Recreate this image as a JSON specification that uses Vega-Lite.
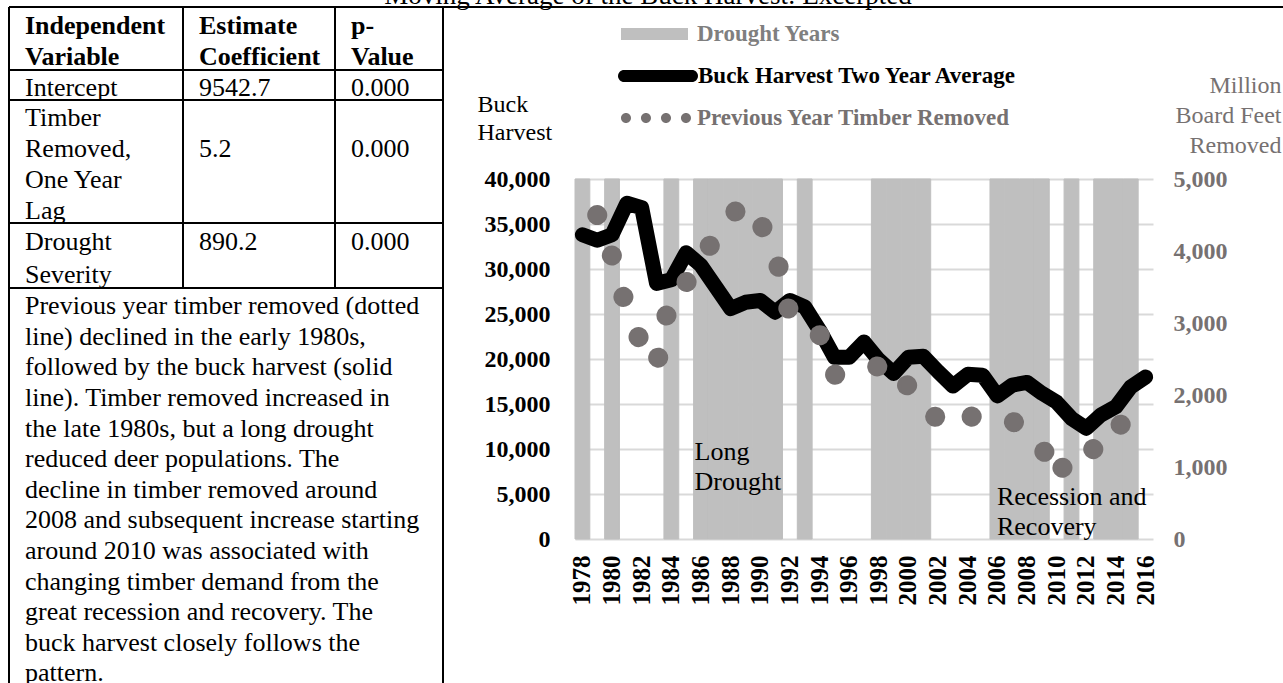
{
  "$schema": "https://vega.github.io/schema/vega-lite/v6.json",
  "width": 1283,
  "height": 683,
  "autosize": {"type": "none"},
  "padding": 0,
  "background": "#ffffff",
  "config": {"view": {"stroke": null}, "font": "Liberation Serif"},
  "datasets": {
    "table_cells": [
      {"col": 0, "line": 0, "part": "header", "text": "Independent"},
      {"col": 0, "line": 1, "part": "header", "text": "Variable"},
      {"col": 1, "line": 0, "part": "header", "text": "Estimate"},
      {"col": 1, "line": 1, "part": "header", "text": "Coefficient"},
      {"col": 2, "line": 0, "part": "header", "text": "p-"},
      {"col": 2, "line": 1, "part": "header", "text": "Value"},
      {"col": 0, "line": 2, "part": "body", "text": "Intercept"},
      {"col": 1, "line": 2, "part": "body", "text": "9542.7"},
      {"col": 2, "line": 2, "part": "body", "text": "0.000"},
      {"col": 0, "line": 3, "part": "body", "text": "Timber"},
      {"col": 0, "line": 4, "part": "body", "text": "Removed,"},
      {"col": 0, "line": 5, "part": "body", "text": "One Year"},
      {"col": 0, "line": 6, "part": "body", "text": "Lag"},
      {"col": 1, "line": 4, "part": "body", "text": "\u00a0\u00a0\u00a0\u00a05.2"},
      {"col": 2, "line": 4, "part": "body", "text": "0.000"},
      {"col": 0, "line": 7, "part": "body", "text": "Drought"},
      {"col": 0, "line": 8, "part": "body", "text": "Severity"},
      {"col": 1, "line": 7, "part": "body", "text": "890.2"},
      {"col": 2, "line": 7, "part": "body", "text": "0.000"},
      {"col": 0, "line": 9, "part": "body", "text": "Previous year timber removed (dotted"},
      {"col": 0, "line": 10, "part": "body", "text": "line) declined in the early 1980s,"},
      {"col": 0, "line": 11, "part": "body", "text": "followed by the buck harvest (solid"},
      {"col": 0, "line": 12, "part": "body", "text": "line). Timber removed increased in"},
      {"col": 0, "line": 13, "part": "body", "text": "the late 1980s, but a long drought"},
      {"col": 0, "line": 14, "part": "body", "text": "reduced deer populations.  The"},
      {"col": 0, "line": 15, "part": "body", "text": "decline in timber removed around"},
      {"col": 0, "line": 16, "part": "body", "text": "2008 and subsequent increase starting"},
      {"col": 0, "line": 17, "part": "body", "text": "around 2010 was associated with"},
      {"col": 0, "line": 18, "part": "body", "text": "changing timber demand from the"},
      {"col": 0, "line": 19, "part": "body", "text": "great recession and recovery.  The"},
      {"col": 0, "line": 20, "part": "body", "text": "buck harvest closely follows the"},
      {"col": 0, "line": 21, "part": "body", "text": "pattern."}
    ],
    "row_edges": [
      {"edge": -0.5, "from": 0, "to": 4},
      {"edge": 1.5, "from": 0, "to": 3},
      {"edge": 2.5, "from": 0, "to": 3},
      {"edge": 6.5, "from": 0, "to": 3},
      {"edge": 8.5, "from": 0, "to": 3}
    ],
    "col_edges": [
      {"edge": 0, "from": -0.5, "to": 22},
      {"edge": 1, "from": -0.5, "to": 8.5},
      {"edge": 2, "from": -0.5, "to": 8.5},
      {"edge": 3, "from": -0.5, "to": 22}
    ],
    "harvest": [
      {"year": 1978, "buck": 33800, "timber": null, "drought": 1},
      {"year": 1979, "buck": 33200, "timber": 4500, "drought": 0},
      {"year": 1980, "buck": 33800, "timber": 3930, "drought": 1},
      {"year": 1981, "buck": 37300, "timber": 3190, "drought": 0},
      {"year": 1982, "buck": 36800, "timber": 2700, "drought": 0},
      {"year": 1983, "buck": 28400, "timber": 2400, "drought": 0},
      {"year": 1984, "buck": 28800, "timber": 3450, "drought": 1},
      {"year": 1985, "buck": 31800, "timber": 3560, "drought": 0},
      {"year": 1986, "buck": 30400, "timber": 3900, "drought": 1},
      {"year": 1987, "buck": 28000, "timber": 4190, "drought": 1},
      {"year": 1988, "buck": 25600, "timber": 4490, "drought": 1},
      {"year": 1989, "buck": 26300, "timber": 4670, "drought": 1},
      {"year": 1990, "buck": 26500, "timber": 4390, "drought": 1},
      {"year": 1991, "buck": 25200, "timber": 3990, "drought": 1},
      {"year": 1992, "buck": 26500, "timber": 3110, "drought": 0},
      {"year": 1993, "buck": 25800, "timber": 2970, "drought": 1},
      {"year": 1994, "buck": 23200, "timber": 2840, "drought": 0},
      {"year": 1995, "buck": 20200, "timber": 2280, "drought": 0},
      {"year": 1996, "buck": 20200, "timber": 2340, "drought": 0},
      {"year": 1997, "buck": 21900, "timber": 2370, "drought": 0},
      {"year": 1998, "buck": 19900, "timber": 2400, "drought": 1},
      {"year": 1999, "buck": 18400, "timber": 2080, "drought": 1},
      {"year": 2000, "buck": 20200, "timber": 2140, "drought": 1},
      {"year": 2001, "buck": 20300, "timber": 1890, "drought": 1},
      {"year": 2002, "buck": 18600, "timber": 1650, "drought": 0},
      {"year": 2003, "buck": 17000, "timber": 1800, "drought": 0},
      {"year": 2004, "buck": 18300, "timber": 1710, "drought": 0},
      {"year": 2005, "buck": 18200, "timber": 1670, "drought": 0},
      {"year": 2006, "buck": 15900, "timber": 1660, "drought": 1},
      {"year": 2007, "buck": 17100, "timber": 1640, "drought": 1},
      {"year": 2008, "buck": 17400, "timber": 1490, "drought": 1},
      {"year": 2009, "buck": 16200, "timber": 1290, "drought": 1},
      {"year": 2010, "buck": 15200, "timber": 830, "drought": 0},
      {"year": 2011, "buck": 13400, "timber": 1240, "drought": 1},
      {"year": 2012, "buck": 12300, "timber": 1290, "drought": 0},
      {"year": 2013, "buck": 13800, "timber": 1200, "drought": 1},
      {"year": 2014, "buck": 14700, "timber": 1540, "drought": 1},
      {"year": 2015, "buck": 16900, "timber": 1690, "drought": 1},
      {"year": 2016, "buck": 18000, "timber": 1850, "drought": 0}
    ]
  },
  "layer": [
    {
      "layer": [
        {
          "data": {"name": "row_edges"},
          "mark": {"type": "rule", "stroke": "#000000", "strokeWidth": 2},
          "encoding": {
            "y": {"field": "edge", "type": "quantitative", "axis": null, "scale": {"type": "linear", "domain": [-0.5, 1.5, 2.5, 6.5, 8.5, 22], "range": [7, 70, 100, 223, 288, 701], "nice": false, "zero": false}},
            "x": {"field": "from", "type": "quantitative", "axis": null, "scale": {"type": "linear", "domain": [0, 1, 2, 3, 4], "range": [9, 183, 335, 443, 1290], "nice": false, "zero": false}},
            "x2": {"field": "to"}
          }
        },
        {
          "data": {"name": "col_edges"},
          "mark": {"type": "rule", "stroke": "#000000", "strokeWidth": 2},
          "encoding": {
            "x": {"field": "edge", "type": "quantitative", "axis": null, "scale": {"type": "linear", "domain": [0, 1, 2, 3, 4], "range": [9, 183, 335, 443, 1290], "nice": false, "zero": false}},
            "y": {"field": "from", "type": "quantitative", "axis": null, "scale": {"type": "linear", "domain": [-0.5, 1.5, 2.5, 6.5, 8.5, 22], "range": [7, 70, 100, 223, 288, 701], "nice": false, "zero": false}},
            "y2": {"field": "to"}
          }
        },
        {
          "data": {"values": [{"caption": "Moving Average of the Buck Harvest: Excerpted"}]},
          "mark": {"type": "text", "align": "center", "baseline": "alphabetic", "font": "Liberation Serif", "fontSize": 27, "fontWeight": "normal", "fill": "#000000"},
          "encoding": {
            "x": {"datum": 3.242, "type": "quantitative", "axis": null, "scale": {"type": "linear", "domain": [0, 1, 2, 3, 4], "range": [9, 183, 335, 443, 1290], "nice": false, "zero": false}},
            "y": {"datum": -0.6, "type": "quantitative", "axis": null, "scale": {"type": "linear", "domain": [-0.5, 1.5, 2.5, 6.5, 8.5, 22], "range": [7, 70, 100, 223, 288, 701], "nice": false, "zero": false}},
            "text": {"field": "caption"}
          }
        },
        {
          "data": {"name": "table_cells"},
          "transform": [{"filter": "datum.part === 'header'"}],
          "mark": {"type": "text", "align": "left", "baseline": "middle", "dx": 16, "dy": 3, "font": "Liberation Serif", "fontSize": 26, "fontWeight": "bold", "fill": "#000000"},
          "encoding": {
            "x": {"field": "col", "type": "quantitative", "axis": null, "scale": {"type": "linear", "domain": [0, 1, 2, 3, 4], "range": [9, 183, 335, 443, 1290], "nice": false, "zero": false}},
            "y": {"field": "line", "type": "quantitative", "axis": null, "scale": {"type": "linear", "domain": [-0.5, 1.5, 2.5, 6.5, 8.5, 22], "range": [7, 70, 100, 223, 288, 701], "nice": false, "zero": false}},
            "text": {"field": "text"}
          }
        },
        {
          "data": {"name": "table_cells"},
          "transform": [{"filter": "datum.part === 'body'"}],
          "mark": {"type": "text", "align": "left", "baseline": "middle", "dx": 16, "dy": 3, "font": "Liberation Serif", "fontSize": 26, "fontWeight": "normal", "fill": "#000000"},
          "encoding": {
            "x": {"field": "col", "type": "quantitative", "axis": null, "scale": {"type": "linear", "domain": [0, 1, 2, 3, 4], "range": [9, 183, 335, 443, 1290], "nice": false, "zero": false}},
            "y": {"field": "line", "type": "quantitative", "axis": null, "scale": {"type": "linear", "domain": [-0.5, 1.5, 2.5, 6.5, 8.5, 22], "range": [7, 70, 100, 223, 288, 701], "nice": false, "zero": false}},
            "text": {"field": "text"}
          }
        }
      ]
    },
    {
      "data": {"name": "harvest"},
      "encoding": {
        "x": {
          "field": "year", "type": "ordinal",
          "scale": {"type": "band", "range": [575, 1153], "paddingInner": 0, "paddingOuter": 0},
          "axis": {"orient": "bottom", "offset": -144, "values": [1978, 1980, 1982, 1984, 1986, 1988, 1990, 1992, 1994, 1996, 1998, 2000, 2002, 2004, 2006, 2008, 2010, 2012, 2014, 2016], "labelAngle": -90, "labelAlign": "right", "labelBaseline": "middle", "labelPadding": 16, "labelFont": "Liberation Serif", "labelFontSize": 25, "labelFontWeight": "bold", "labelColor": "#000000", "labelOverlap": false, "domain": false, "ticks": false, "tickSize": 0, "grid": false, "title": null}
        }
      },
      "layer": [
        {
          "layer": [
            {
              "transform": [{"filter": "datum.drought === 1"}],
              "mark": {"type": "bar", "stroke": "#bfbfbf", "strokeWidth": 1},
              "encoding": {
                "y": {"datum": 40000, "type": "quantitative",
                  "scale": {"type": "linear", "domain": [0, 40000], "range": [539, 179], "nice": false, "zero": true},
                  "axis": {"orient": "left", "offset": -575, "values": [0, 5000, 10000, 15000, 20000, 25000, 30000, 35000, 40000], "labelExpr": "format(datum.value, ',')", "domain": false, "ticks": false, "tickSize": 0, "grid": true, "gridColor": "#d9d9d9", "gridWidth": 2, "labelFont": "Liberation Serif", "labelFontSize": 24, "labelFontWeight": "bold", "labelColor": "#000000", "labelPadding": 25, "title": ["Buck", "Harvest"], "titleFont": "Liberation Serif", "titleFontSize": 24, "titleFontWeight": "normal", "titleColor": "#000000", "titleAngle": 0, "titleAlign": "left", "titleBaseline": "top", "titleX": -98, "titleY": 92, "titleLineHeight": 28}
                },
                "y2": {"datum": 0},
                "fill": {
                  "datum": "Drought Years", "type": "nominal",
                  "scale": {"range": ["#bfbfbf"]},
                  "legend": {"orient": "none", "legendX": 621, "legendY": 0.5, "title": null, "symbolType": "M-1,-0.18H1V0.18H-1Z", "symbolSize": 4489, "symbolStrokeWidth": 0, "padding": 0, "labelFont": "Liberation Serif", "labelFontSize": 23, "labelFontWeight": "bold", "labelColor": "#7f7f7f", "labelOffset": 9, "labelLimit": 0}
                }
              }
            },
            {
              "mark": {"type": "line", "strokeWidth": 15, "strokeCap": "round", "strokeJoin": "round"},
              "encoding": {
                "y": {"field": "buck", "type": "quantitative", "scale": {"type": "linear", "domain": [0, 40000], "range": [539, 179], "nice": false, "zero": true}},
                "stroke": {
                  "datum": "Buck Harvest Two Year Average", "type": "nominal",
                  "scale": {"range": ["#000000"]},
                  "legend": {"orient": "none", "legendX": 618, "legendY": 36, "title": null, "symbolType": "M-0.85,-0.15H0.85A0.15,0.15 0 0 1 0.85,0.15H-0.85A0.15,0.15 0 0 1 -0.85,-0.15Z", "symbolSize": 6400, "symbolStrokeWidth": 0, "symbolFillColor": "#000000", "padding": 0, "labelFont": "Liberation Serif", "labelFontSize": 23, "labelFontWeight": "bold", "labelColor": "#000000", "labelOffset": 0, "labelLimit": 0}
                }
              }
            },
            {
              "data": {"values": [{"note": ["Long", "Drought"]}]},
              "mark": {"type": "text", "align": "left", "baseline": "middle", "dx": 1, "font": "Liberation Serif", "fontSize": 26, "fill": "#000000", "lineHeight": 30},
              "encoding": {
                "x": {"datum": 1986, "type": "ordinal", "bandPosition": 0},
                "y": {"datum": 9670, "type": "quantitative", "scale": {"type": "linear", "domain": [0, 40000], "range": [539, 179], "nice": false, "zero": true}},
                "text": {"field": "note"}
              }
            },
            {
              "data": {"values": [{"note": ["Recession and", "Recovery"]}]},
              "mark": {"type": "text", "align": "left", "baseline": "middle", "dx": 7, "font": "Liberation Serif", "fontSize": 26, "fill": "#000000", "lineHeight": 30},
              "encoding": {
                "x": {"datum": 2006, "type": "ordinal", "bandPosition": 0},
                "y": {"datum": 4670, "type": "quantitative", "scale": {"type": "linear", "domain": [0, 40000], "range": [539, 179], "nice": false, "zero": true}},
                "text": {"field": "note"}
              }
            }
          ]
        },
        {
          "mark": {"type": "line", "strokeWidth": 20, "strokeCap": "round", "strokeJoin": "round", "strokeDash": [0.1, 42.9]},
          "encoding": {
            "y": {"field": "timber", "type": "quantitative",
              "scale": {"type": "linear", "domain": [0, 5000], "range": [539, 179], "nice": false, "zero": true},
              "axis": {"orient": "right", "offset": -130, "values": [0, 1000, 2000, 3000, 4000, 5000], "labelExpr": "format(datum.value, ',')", "domain": false, "ticks": false, "tickSize": 0, "grid": false, "labelFont": "Liberation Serif", "labelFontSize": 24, "labelFontWeight": "bold", "labelColor": "#767171", "labelPadding": 20, "title": ["Million", "Board Feet", "Removed"], "titleFont": "Liberation Serif", "titleFontSize": 24, "titleFontWeight": "normal", "titleColor": "#767171", "titleAngle": 0, "titleAlign": "right", "titleBaseline": "top", "titleX": 128, "titleY": 73, "titleLineHeight": 30}
            },
            "color": {
              "datum": "Previous Year Timber Removed", "type": "nominal",
              "scale": {"range": ["#767171"]},
              "legend": {"orient": "none", "legendX": 621, "legendY": 83, "title": null, "symbolType": "M-1,0A0.143,0.143 0 1 0 -0.714,0A0.143,0.143 0 1 0 -1,0ZM-0.429,0A0.143,0.143 0 1 0 -0.143,0A0.143,0.143 0 1 0 -0.429,0ZM0.143,0A0.143,0.143 0 1 0 0.429,0A0.143,0.143 0 1 0 0.143,0ZM0.714,0A0.143,0.143 0 1 0 1,0A0.143,0.143 0 1 0 0.714,0Z", "symbolSize": 4900, "symbolStrokeWidth": 0, "symbolFillColor": "#767171", "padding": 0, "labelFont": "Liberation Serif", "labelFontSize": 23, "labelFontWeight": "bold", "labelColor": "#767171", "labelOffset": 6, "labelLimit": 0}
            }
          }
        }
      ],
      "resolve": {"scale": {"y": "independent"}}
    }
  ],
  "resolve": {"scale": {"x": "independent", "y": "independent"}}
}
